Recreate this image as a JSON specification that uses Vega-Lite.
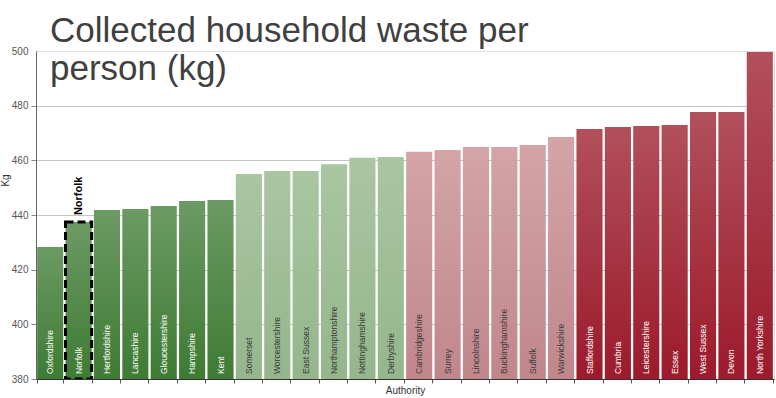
{
  "$schema": "https://vega.github.io/schema/vega-lite/v6.json",
  "autosize": "none",
  "width": 738,
  "height": 328,
  "padding": {"left": 36, "top": 51, "right": 2, "bottom": 19},
  "background": "white",
  "title": {
    "text": ["Collected household waste per", "person (kg)"],
    "anchor": "start",
    "frame": "group",
    "orient": "top",
    "baseline": "alphabetic",
    "offset": -70,
    "dx": 14,
    "font": "Liberation Sans",
    "fontSize": 35,
    "fontWeight": "normal",
    "color": "#404040",
    "lineHeight": 38
  },
  "data": {
    "values": [
      {"name": "Oxfordshire", "value": 428.3, "group": "dg"},
      {"name": "Norfolk", "value": 437.4, "group": "dg"},
      {"name": "Hertfordshire", "value": 441.8, "group": "dg"},
      {"name": "Lancashire", "value": 442.2, "group": "dg"},
      {"name": "Gloucestershire", "value": 443.3, "group": "dg"},
      {"name": "Hampshire", "value": 445.1, "group": "dg"},
      {"name": "Kent", "value": 445.5, "group": "dg"},
      {"name": "Somerset", "value": 455.0, "group": "lg"},
      {"name": "Worcestershire", "value": 456.1, "group": "lg"},
      {"name": "East Sussex", "value": 456.1, "group": "lg"},
      {"name": "Northamptonshire", "value": 458.6, "group": "lg"},
      {"name": "Nottinghamshire", "value": 460.9, "group": "lg"},
      {"name": "Derbyshire", "value": 461.2, "group": "lg"},
      {"name": "Cambridgeshire", "value": 463.1, "group": "lr"},
      {"name": "Surrey", "value": 463.8, "group": "lr"},
      {"name": "Lincolnshire", "value": 464.9, "group": "lr"},
      {"name": "Buckinghamshire", "value": 464.9, "group": "lr"},
      {"name": "Suffolk", "value": 465.6, "group": "lr"},
      {"name": "Warwickshire", "value": 468.5, "group": "lr"},
      {"name": "Staffordshire", "value": 471.5, "group": "dr"},
      {"name": "Cumbria", "value": 472.2, "group": "dr"},
      {"name": "Leicestershire", "value": 472.6, "group": "dr"},
      {"name": "Essex", "value": 472.9, "group": "dr"},
      {"name": "West Sussex", "value": 477.7, "group": "dr"},
      {"name": "Devon", "value": 477.7, "group": "dr"},
      {"name": "North Yorkshire", "value": 499.6, "group": "dr"}
    ]
  },
  "encoding": {
    "x": {
      "field": "name",
      "type": "nominal",
      "sort": null,
      "scale": {"paddingInner": 0.08, "paddingOuter": 0.04},
      "axis": {
        "title": "Authority",
        "titleFont": "Liberation Sans",
        "titleFontSize": 10,
        "titleFontWeight": "normal",
        "titleColor": "#333333",
        "titlePadding": 2,
        "labels": false,
        "ticks": true,
        "tickBand": "extent",
        "tickSize": 4,
        "tickColor": "#555555",
        "domainColor": "#333333",
        "grid": false
      }
    }
  },
  "layer": [
    {
      "mark": {"type": "bar", "clip": true},
      "encoding": {
        "y": {
          "field": "value",
          "type": "quantitative",
          "scale": {"domain": [380, 500], "nice": false, "zero": false},
          "axis": {
            "title": "Kg",
            "titleFont": "Liberation Sans",
            "titleFontSize": 10,
            "titleFontWeight": "normal",
            "titleColor": "#333333",
            "titleAngle": 270,
            "titleX": -26,
            "titleY": 129,
            "values": [380, 400, 420, 440, 460, 480, 500],
            "labelFont": "Liberation Sans",
            "labelFontSize": 10,
            "labelColor": "#555555",
            "labelPadding": 3,
            "tickSize": 5,
            "tickColor": "#888888",
            "tickOpacity": {"condition": {"test": "datum.value === 500", "value": 0}, "value": 1},
            "domainColor": "#666666",
            "grid": true,
            "gridColor": "#c4c4c4",
            "gridOpacity": {"condition": {"test": "datum.value === 500", "value": 0}, "value": 1},
            "gridWidth": 1
          }
        },
        "y2": {"datum": 380},
        "color": {
          "condition": [
            {"test": "datum.group === 'dg'", "value": {"gradient": "linear", "x1": 0, "y1": 0, "x2": 0, "y2": 1, "stops": [{"offset": 0, "color": "#6c9a64"}, {"offset": 1, "color": "#3e7b33"}]}},
            {"test": "datum.group === 'lg'", "value": {"gradient": "linear", "x1": 0, "y1": 0, "x2": 0, "y2": 1, "stops": [{"offset": 0, "color": "#a9c6a1"}, {"offset": 1, "color": "#95b68c"}]}},
            {"test": "datum.group === 'lr'", "value": {"gradient": "linear", "x1": 0, "y1": 0, "x2": 0, "y2": 1, "stops": [{"offset": 0, "color": "#d4a4a7"}, {"offset": 1, "color": "#c0878b"}]}}
          ],
          "value": {"gradient": "linear", "x1": 0, "y1": 0, "x2": 0, "y2": 1, "stops": [{"offset": 0, "color": "#b1505b"}, {"offset": 1, "color": "#9c1a2b"}]}
        }
      }
    },
    {
      "mark": {"type": "bar", "fill": null, "strokeWidth": 3, "strokeDash": [8, 4], "clip": true},
      "encoding": {
        "y": {"field": "value", "type": "quantitative"},
        "y2": {"datum": 380},
        "stroke": {
          "condition": {"test": "datum.name === 'Norfolk'", "value": "#000000"},
          "value": null
        }
      }
    },
    {
      "mark": {"type": "text", "angle": 270, "align": "left", "baseline": "middle", "dx": 5, "font": "Liberation Sans", "fontSize": 8.5},
      "encoding": {
        "y": {"datum": 380},
        "text": {"field": "name"},
        "color": {
          "condition": {"test": "datum.group === 'lg' || datum.group === 'lr'", "value": "#3a3a3a"},
          "value": "#ffffff"
        }
      }
    },
    {
      "mark": {"type": "text", "angle": 270, "align": "left", "baseline": "middle", "dx": 7, "font": "Liberation Sans", "fontSize": 11, "fontWeight": "bold", "color": "#000000"},
      "encoding": {
        "y": {"field": "value", "type": "quantitative"},
        "text": {
          "condition": {"test": "datum.name === 'Norfolk'", "field": "name", "type": "nominal"},
          "value": ""
        }
      }
    }
  ]
}
